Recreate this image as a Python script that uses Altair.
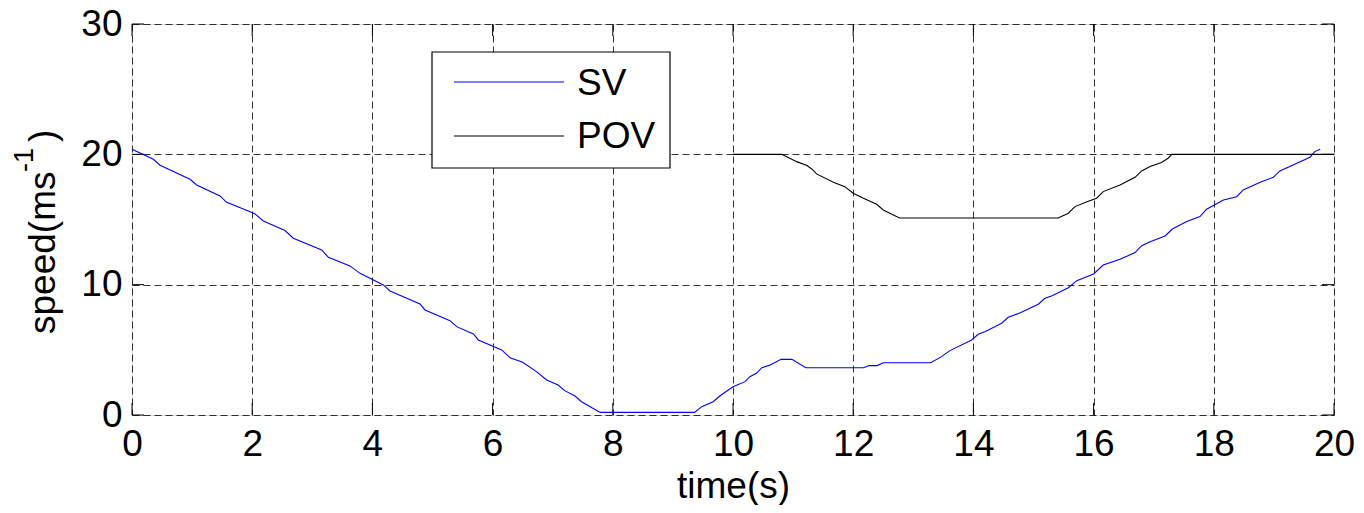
import altair as alt
import pandas as pd

# ---- data ----
sv_t = [0.0, 0.355, 0.466, 0.965, 1.076, 1.464, 1.575, 1.935, 2.047, 2.185, 2.546, 2.684,
        3.156, 3.267, 3.627, 3.794, 4.182, 4.293, 4.792, 4.875, 5.291, 5.402, 5.68, 5.762,
        6.151, 6.29, 6.50, 6.73, 6.90, 7.09, 7.20, 7.37, 7.48, 7.79, 9.36, 9.48, 9.67, 9.78,
        10.0, 10.2, 10.28, 10.39, 10.48, 10.62, 10.80, 10.98, 11.21, 12.17, 12.27, 12.40,
        12.50, 13.29, 13.47, 13.61, 13.97, 14.08, 14.19, 14.47, 14.58, 14.78, 15.08, 15.19,
        15.30, 15.58, 15.72, 16.0, 16.16, 16.44, 16.69, 16.80, 16.94, 17.19, 17.31, 17.55,
        17.77, 17.88, 18.16, 18.38, 18.49, 18.77, 18.99, 19.10, 19.60, 19.68, 19.77]
sv_v = [20.39, 19.62, 19.16, 18.09, 17.65, 16.81, 16.32, 15.66, 15.43, 14.89, 14.15, 13.56,
        12.66, 12.10, 11.44, 10.87, 9.98, 9.52, 8.52, 8.06, 7.24, 6.78, 6.22, 5.76,
        4.99, 4.40, 4.05, 3.33, 2.69, 2.30, 1.87, 1.46, 1.02, 0.2, 0.2, 0.64, 1.02, 1.46,
        2.17, 2.56, 2.94, 3.20, 3.63, 3.84, 4.27, 4.27, 3.63, 3.63, 3.79, 3.79,
        4.01, 4.01, 4.48, 4.94, 5.76, 6.19, 6.39, 7.04, 7.50, 7.85, 8.50, 8.95,
        9.13, 9.77, 10.31, 10.82, 11.51, 11.95, 12.46, 12.99, 13.30, 13.74, 14.27, 14.84,
        15.22, 15.79, 16.50, 16.75, 17.27, 17.86, 18.24, 18.73, 19.78, 20.21, 20.39]

pov_t = [10.0, 10.81, 11.06, 11.23, 11.31, 11.39, 11.67, 11.86, 12.0, 12.17, 12.39, 12.50,
         12.77, 15.41, 15.58, 15.69, 15.89, 16.05, 16.16, 16.44, 16.69, 16.80, 16.94, 17.13,
         17.24, 17.30, 20.0]
pov_v = [20.0, 20.0, 19.44, 19.14, 18.88, 18.50, 17.86, 17.52, 17.01, 16.63, 16.17, 15.73,
         15.12, 15.12, 15.48, 15.99, 16.37, 16.63, 17.14, 17.65, 18.24, 18.73, 19.06, 19.37,
         19.70, 20.0, 20.0]

series_names = ["SV", "POV"]
series_colors = ["#0000ff", "#000000"]
x_ticks = [0, 2, 4, 6, 8, 10, 12, 14, 16, 18, 20]
y_ticks = [0, 10, 20, 30]

FONT = "Liberation Sans"
FS = 37
W, H = 1202, 391

rows = []
for i, (t, v) in enumerate(zip(sv_t, sv_v)):
    rows.append({"t": t, "v": v, "s": "SV", "i": i})
for i, (t, v) in enumerate(zip(pov_t, pov_v)):
    rows.append({"t": t, "v": v, "s": "POV", "i": i})
df = pd.DataFrame(rows)

xs = alt.Scale(domain=[0, 20], nice=False, zero=False)
ys = alt.Scale(domain=[0, 30], nice=False, zero=False)
cs = alt.Scale(domain=series_names, range=series_colors)

x_axis = alt.Axis(values=x_ticks, title="time(s)", grid=True, ticks=False, domain=False,
                  labelPadding=11, labelFontSize=FS, labelFont=FONT, labelColor="black",
                  titleFontSize=FS, titleFont=FONT, titleFontWeight="normal",
                  titleColor="black", titleY=82, titleBaseline="alphabetic",
                  gridColor="black", gridDash=[7, 4], gridOpacity=0.8, gridWidth=1,
                  labelFlush=False)
y_axis = alt.Axis(values=y_ticks, title="", grid=True, ticks=False, domain=False,
                  labelPadding=10, labelFontSize=FS, labelFont=FONT, labelColor="black",
                  gridColor="black", gridDash=[7, 4], gridOpacity=0.8, gridWidth=1,
                  labelFlush=False)

lines = alt.Chart(df).mark_line(strokeWidth=1.1).encode(
    x=alt.X("t:Q", scale=xs, axis=x_axis),
    y=alt.Y("v:Q", scale=ys, axis=y_axis),
    color=alt.Color("s:N", scale=cs, legend=None),
    detail="s:N",
    order="i:Q",
)

# inward axis ticks (MATLAB style) on all four sides
xt = pd.DataFrame({"t": x_ticks})
yt = pd.DataFrame({"v": y_ticks})
TL = 12
tick_b = alt.Chart(xt).mark_rule(color="black", strokeWidth=1).encode(
    x=alt.X("t:Q", scale=xs, axis=x_axis), y=alt.value(H), y2=alt.value(H - TL))
tick_t = alt.Chart(xt).mark_rule(color="black", strokeWidth=1).encode(
    x=alt.X("t:Q", scale=xs, axis=x_axis), y=alt.value(0), y2=alt.value(TL))
tick_l = alt.Chart(yt).mark_rule(color="black", strokeWidth=1).encode(
    y=alt.Y("v:Q", scale=ys, axis=y_axis), x=alt.value(0), x2=alt.value(TL))
tick_r = alt.Chart(yt).mark_rule(color="black", strokeWidth=1).encode(
    y=alt.Y("v:Q", scale=ys, axis=y_axis), x=alt.value(W), x2=alt.value(W - TL))

# legend box
leg = pd.DataFrame({"name": series_names, "color": series_colors, "k": [0, 1]})
box = alt.Chart(pd.DataFrame({"a": [0]})).mark_rect(
    fill="white", stroke="black", strokeWidth=1.2).encode(
    x=alt.value(300), x2=alt.value(538), y=alt.value(28), y2=alt.value(144))
leg_sv = alt.Chart(leg[leg.k == 0]).mark_rule(strokeWidth=1.1).encode(
    x=alt.value(322), x2=alt.value(432), y=alt.value(58),
    color=alt.Color("name:N", scale=cs, legend=None))
leg_pov = alt.Chart(leg[leg.k == 1]).mark_rule(strokeWidth=1.1).encode(
    x=alt.value(322), x2=alt.value(432), y=alt.value(112),
    color=alt.Color("name:N", scale=cs, legend=None))
txt_sv = alt.Chart(leg[leg.k == 0]).mark_text(
    align="left", baseline="alphabetic", font=FONT, fontSize=FS, color="black").encode(
    x=alt.value(445), y=alt.value(71), text="name:N")
txt_pov = alt.Chart(leg[leg.k == 1]).mark_text(
    align="left", baseline="alphabetic", font=FONT, fontSize=FS, color="black").encode(
    x=alt.value(445), y=alt.value(124), text="name:N")

# y-axis title with superscript
yt_main = alt.Chart(pd.DataFrame({"s": ["speed(ms"]})).mark_text(
    align="left", baseline="alphabetic", angle=270, font=FONT, fontSize=FS, color="black").encode(
    x=alt.value(-77), y=alt.value(310), text="s:N")
yt_sup = alt.Chart(pd.DataFrame({"s": ["-1"]})).mark_text(
    align="left", baseline="alphabetic", angle=270, font=FONT, fontSize=27, color="black").encode(
    x=alt.value(-99), y=alt.value(148), text="s:N")
yt_par = alt.Chart(pd.DataFrame({"s": [")"]})).mark_text(
    align="left", baseline="alphabetic", angle=270, font=FONT, fontSize=FS, color="black").encode(
    x=alt.value(-77), y=alt.value(118), text="s:N")

chart = alt.layer(
    lines, tick_b, tick_t, tick_l, tick_r, box, leg_sv, leg_pov, txt_sv, txt_pov,
    yt_main, yt_sup, yt_par
).resolve_scale(color="shared").properties(
    width=W, height=H,
    autosize=alt.AutoSizeParams(type="none"),
    padding={"left": 124, "top": 16, "right": 22, "bottom": 90},
).configure_view(stroke="black", strokeWidth=1.2).configure(background="white")

chart.save("out.html", embed_options={"renderer": "svg", "actions": False})
